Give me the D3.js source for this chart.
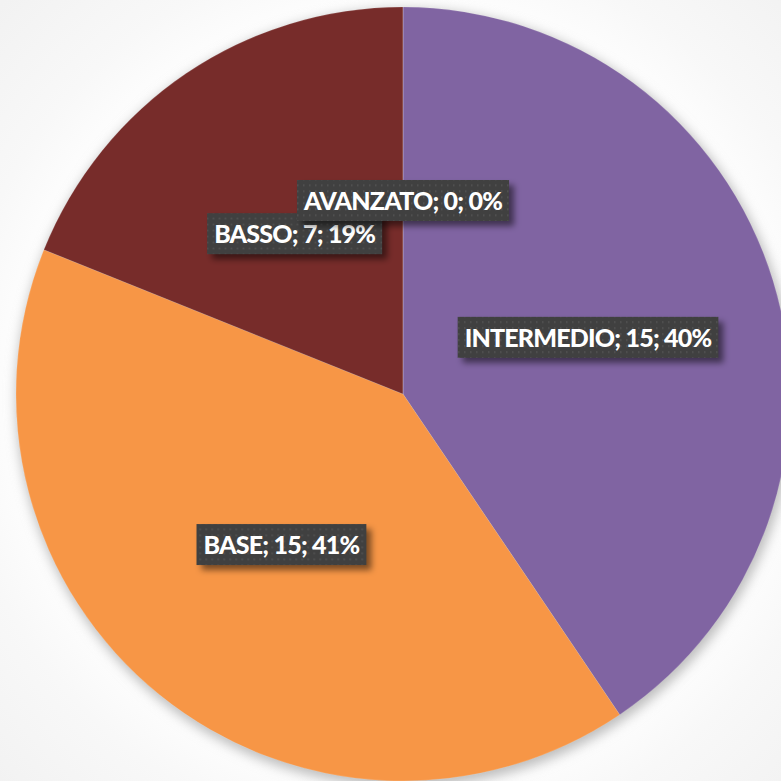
<!DOCTYPE html>
<html>
<head>
<meta charset="utf-8">
<script src="https://cdn.jsdelivr.net/npm/d3@7"></script>
<style>
  html, body { margin: 0; padding: 0; background: #f5f5f5; }
  svg { display: block; }
</style>
</head>
<body>
<svg width="781" height="781"></svg>
<script>
// chart data
var categories = ["INTERMEDIO", "BASE", "BASSO", "AVANZATO"];
var values = [15, 15, 7, 0];
var percentLabels = ["40%", "41%", "19%", "0%"];
var colors = ["#8064a2", "#f79646", "#772c2a", "#4f81bd"];

var svg = d3.select("svg"),
    width = 781,
    height = 781,
    cx = 403,
    cy = 394,
    radius = 387;

var defs = svg.append("defs");

// background radial gradient: whiter near the pie
var bg = defs.append("radialGradient").attr("id", "bg")
    .attr("cx", cx).attr("cy", cy).attr("r", 560)
    .attr("gradientUnits", "userSpaceOnUse");
bg.append("stop").attr("offset", "0.66").attr("stop-color", "#ffffff");
bg.append("stop").attr("offset", "0.8").attr("stop-color", "#f8f8f8");
bg.append("stop").attr("offset", "1").attr("stop-color", "#f2f2f2");

var blurSoft = defs.append("filter").attr("id", "pieShadow")
    .attr("x", "-20%").attr("y", "-20%").attr("width", "140%").attr("height", "140%");
blurSoft.append("feGaussianBlur").attr("stdDeviation", 6);

var boxShadow = defs.append("filter").attr("id", "boxShadow")
    .attr("x", "-20%").attr("y", "-40%").attr("width", "140%").attr("height", "180%");
boxShadow.append("feGaussianBlur").attr("stdDeviation", 3);

// dotted pattern for the label boxes
var pat = defs.append("pattern").attr("id", "dots")
    .attr("width", 6).attr("height", 6)
    .attr("patternUnits", "userSpaceOnUse");
pat.append("rect").attr("width", 6).attr("height", 6).attr("fill", "#404040");
pat.append("rect").attr("x", 2).attr("y", 2).attr("width", 1.5).attr("height", 1.5)
    .attr("fill", "#565656");

svg.append("rect").attr("width", width).attr("height", height).attr("fill", "url(#bg)");

var g = svg.append("g").attr("transform", "translate(" + cx + "," + cy + ")");

// soft shadow round the pie
g.append("circle")
    .attr("cx", 2).attr("cy", 4)
    .attr("r", radius + 2)
    .attr("fill", "#bdbdbd")
    .attr("filter", "url(#pieShadow)");

var pie = d3.pie().sort(null).value(function(d) { return d; });
var arcs = pie(values);

var arc = d3.arc().innerRadius(0).outerRadius(radius);

g.selectAll("path.slice")
    .data(arcs)
    .enter().append("path")
    .attr("class", "slice")
    .attr("d", arc)
    .attr("fill", function(d, i) { return colors[i]; })
    .attr("stroke", "rgba(255,255,255,0.12)")
    .attr("stroke-width", 1);

// labels
var labels = g.selectAll("g.label")
    .data(arcs)
    .enter().append("g")
    .attr("class", "label")
    .attr("transform", function(d) {
        var c = arc.centroid(d);
        return "translate(" + c[0] + "," + c[1] + ")";
    });

labels.each(function(d, i) {
    var lg = d3.select(this);
    var shadow = lg.append("rect");
    var box = lg.append("rect");
    var t = lg.append("text")
        .attr("text-anchor", "middle")
        .attr("dy", "0.37em")
        .attr("fill", "#ffffff")
        .attr("font-family", "Lato, 'Open Sans', sans-serif")
        .attr("font-weight", "900")
        .attr("font-size", 25)
        .attr("letter-spacing", "-0.8px")
        .text(categories[i] + "; " + values[i] + "; " + percentLabels[i]);
    var w = t.node().getComputedTextLength() + 14,
        h = 41;
    shadow.attr("x", -w / 2 + 5).attr("y", -h / 2 + 5)
        .attr("width", w).attr("height", h)
        .attr("fill", "rgba(0,0,0,0.5)")
        .attr("filter", "url(#boxShadow)");
    box.attr("x", -w / 2).attr("y", -h / 2)
        .attr("width", w).attr("height", h)
        .attr("fill", "url(#dots)");
});
</script>
</body>
</html>
